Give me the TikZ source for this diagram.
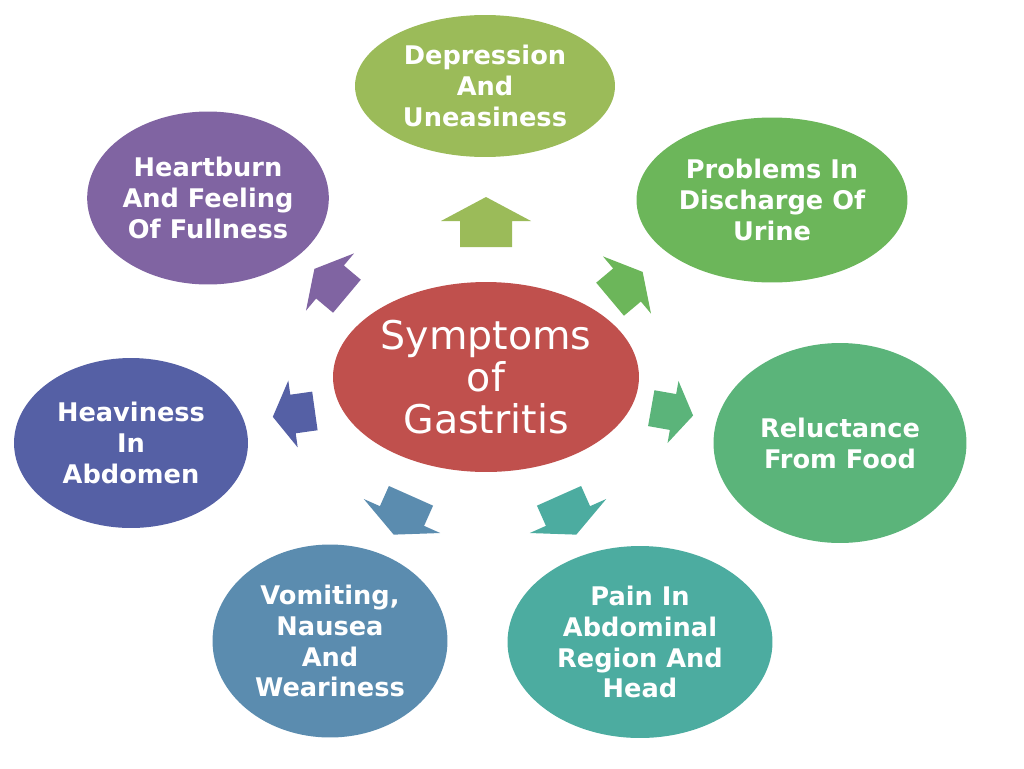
\documentclass[tikz,border=0pt]{standalone}
\usepackage{fontspec}
\setmainfont{DejaVu Sans}
\usepackage{tikz}
\usetikzlibrary{shapes.geometric}

\definecolor{gasred}{HTML}{C0504D}
\definecolor{depgreen}{HTML}{9BBB59}
\definecolor{urigreen}{HTML}{6CB65A}
\definecolor{foodgreen}{HTML}{5BB47A}
\definecolor{painteal}{HTML}{4CACA0}
\definecolor{vomblue}{HTML}{5B8CAF}
\definecolor{heavyblue}{HTML}{5560A5}
\definecolor{heartpurple}{HTML}{8064A2}

\begin{document}
\begin{tikzpicture}[x=0.02cm, y=-0.02cm,
  symptom/.style={ellipse, inner sep=0pt, text=white, align=center,
    font=\fontsize{14.6}{17.6}\selectfont\bfseries},
  hub/.style={ellipse, inner sep=0pt, text=white, align=center,
    font=\fontsize{22.5}{24}\selectfont}]
  \useasboundingbox (0,0) rectangle (1024,768);
  \node[hub, fill=gasred, minimum width=6.12cm, minimum height=3.8cm] (gastritis) at (486,377) {Symptoms\\of\\Gastritis};
  \node[symptom, fill=depgreen, minimum width=5.2cm, minimum height=2.84cm] (depression) at (485,86) {Depression\\And\\Uneasiness};
  \node[symptom, fill=urigreen, minimum width=5.42cm, minimum height=3.3cm] (urine) at (772,200) {Problems In\\Discharge Of\\Urine};
  \node[symptom, fill=foodgreen, minimum width=5.06cm, minimum height=4cm] (food) at (840,443) {Reluctance\\From Food};
  \node[symptom, fill=painteal, minimum width=5.3cm, minimum height=3.84cm] (pain) at (640,642) {Pain In\\Abdominal\\Region And\\Head};
  \node[symptom, fill=vomblue, minimum width=4.7cm, minimum height=3.86cm] (vomiting) at (330,641) {Vomiting,\\Nausea\\And\\Weariness};
  \node[symptom, fill=heavyblue, minimum width=4.68cm, minimum height=3.4cm] (heaviness) at (131,443) {Heaviness\\In\\Abdomen};
  \node[symptom, fill=heartpurple, minimum width=4.72cm, minimum height=3.46cm] (heartburn) at (208,198) {Heartburn\\And Feeling\\Of Fullness};
  \foreach \cx/\cy/\ang/\l/\w/\col in {486/221/90/1/1/depgreen, 627/285/40/0.85/0.83/urigreen,
      673/412/-10/0.85/0.7/foodgreen, 568/516/-66/0.85/0.93/painteal, 402/516/246/0.85/0.93/vomblue,
      293/414/188/0.85/0.75/heavyblue, 330/282/140/0.85/0.83/heartpurple} {
    \fill[\col, shift={(\cx,\cy)}, rotate=\ang, xscale=\l, yscale=\w]
      (-26,-26) -- (0,-26) -- (0,-45) -- (24,0) -- (0,45) -- (0,26) -- (-26,26) -- cycle;
  }
\end{tikzpicture}
\end{document}
